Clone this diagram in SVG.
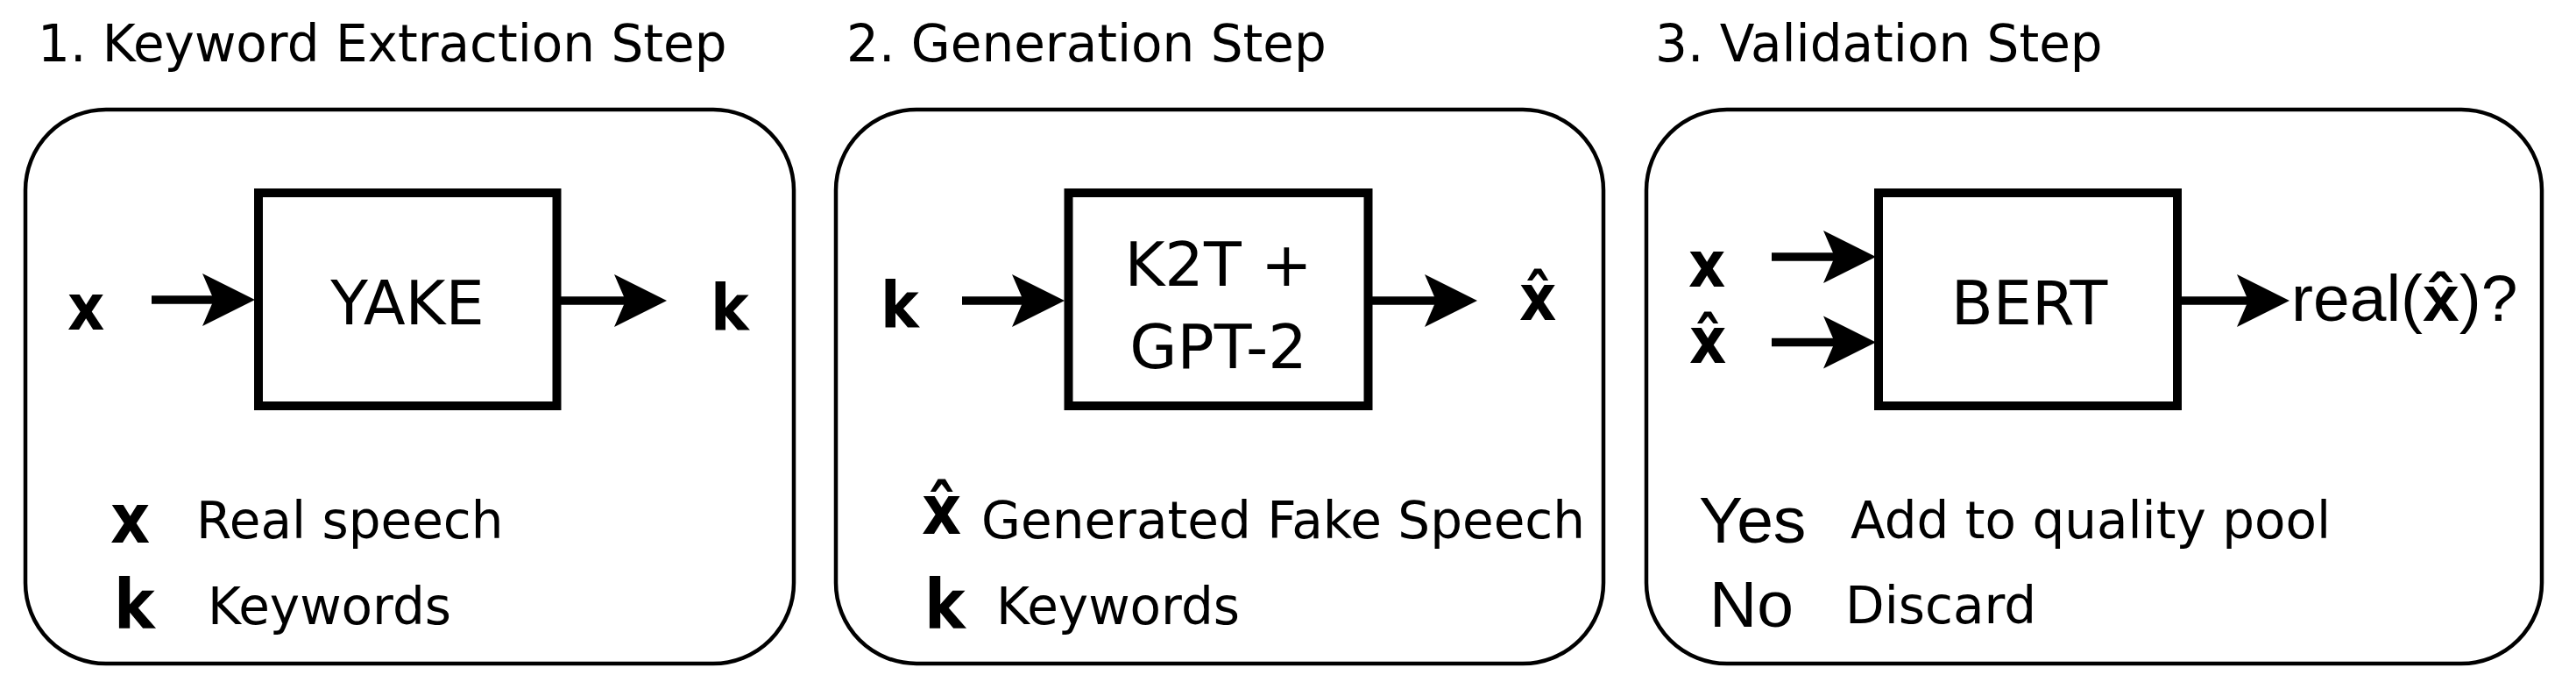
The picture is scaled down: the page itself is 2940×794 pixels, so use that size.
<svg xmlns="http://www.w3.org/2000/svg" width="2940" height="794" viewBox="0 0 2940 794">
<style>
.panel{fill:#fff;stroke:#000;stroke-width:4.5}
.blk{fill:#fff;stroke:#000;stroke-width:10}
.title{font-family:"DejaVu Sans",sans-serif;font-size:58px;fill:#000}
.lbl{font-family:"DejaVu Sans",sans-serif;font-size:70px;fill:#000}
.txt{font-family:"DejaVu Sans",sans-serif;font-size:58px;fill:#000}
.sym{font-family:"DejaVu Sans Condensed","DejaVu Sans",sans-serif;font-weight:bold;font-size:73px;fill:#000}
.lsym{font-family:"DejaVu Sans Condensed","DejaVu Sans",sans-serif;font-weight:bold;font-size:78px;fill:#000}
.ar{font-family:"Liberation Sans",Arial,sans-serif;font-size:75px;fill:#000}
.conn{stroke:#000;stroke-width:9.5;fill:none;marker-end:url(#head)}
</style>
<defs>
<marker id="head" markerUnits="userSpaceOnUse" markerWidth="60" markerHeight="62" viewBox="0 0 60 62" refX="13" refY="31" orient="auto">
<path d="M0,1 L60,31 L0,61 L13,31 Z" fill="#000"/>
</marker>
</defs>
<rect width="2940" height="794" fill="#fff"/>

<g id="step1">
<text class="title" x="43" y="70">1. Keyword Extraction Step</text>
<rect class="panel" x="29" y="125" width="877" height="632" rx="92"/>
<g id="yake"><rect class="blk" x="295" y="220" width="340.5" height="243"/>
<text class="lbl" x="465" y="370" text-anchor="middle">YAKE</text></g>
<text id="in1" class="sym" x="77" y="376">x</text>
<text id="out1" class="sym" x="811" y="377">k</text>
<g id="legend1">
<text class="lsym" x="126" y="619">x</text><text class="txt" x="224" y="614">Real speech</text>
<text class="lsym" x="130" y="717">k</text><text class="txt" x="237" y="712">Keywords</text>
</g>
</g>

<g id="step2">
<text class="title" x="966" y="70">2. Generation Step</text>
<rect class="panel" x="954" y="125" width="876" height="632" rx="92"/>
<g id="k2t"><rect class="blk" x="1219.5" y="220" width="342" height="243"/>
<text class="lbl" x="1390.5" y="326" text-anchor="middle">K2T +</text>
<text class="lbl" x="1390.5" y="420" text-anchor="middle">GPT-2</text></g>
<text id="in2" class="sym" x="1005" y="374">k</text>
<text id="out2" class="sym" x="1734" y="365">x̂</text>
<g id="legend2">
<text class="lsym" x="1052" y="609">x̂</text><text class="txt" x="1120" y="614">Generated Fake Speech</text>
<text class="lsym" x="1055" y="717">k</text><text class="txt" x="1137" y="712">Keywords</text>
</g>
</g>

<g id="step3">
<text class="title" x="1889" y="70">3. Validation Step</text>
<rect class="panel" x="1879" y="125" width="1022" height="632" rx="92"/>
<g id="bert"><rect class="blk" x="2144" y="220" width="341" height="243"/>
<text class="lbl" x="2316" y="370" text-anchor="middle">BERT</text></g>
<text id="in3a" class="sym" x="1927" y="327">x</text>
<text id="in3b" class="sym" x="1928" y="414">x̂</text>
<text id="out3" class="ar" x="2615" y="366" font-size="74">real(<tspan font-weight="bold">x̂</tspan>)?</text>
<g id="legend3">
<text class="ar" x="1939" y="619" font-size="76">Yes</text><text class="txt" x="2112" y="614">Add to quality pool</text>
<text class="ar" x="1951" y="715">No</text><text class="txt" x="2106" y="711">Discard</text>
</g>
</g>

<g id="connectors">
<line class="conn" x1="173" y1="342" x2="244" y2="342"/>
<line class="conn" x1="640" y1="343" x2="714" y2="343"/>
<line class="conn" x1="1098" y1="343" x2="1168" y2="343"/>
<line class="conn" x1="1566" y1="343" x2="1639" y2="343"/>
<line class="conn" x1="2022" y1="293" x2="2094" y2="293"/>
<line class="conn" x1="2022" y1="390.5" x2="2094" y2="390.5"/>
<line class="conn" x1="2489" y1="343" x2="2566" y2="343"/>
</g>
</svg>
